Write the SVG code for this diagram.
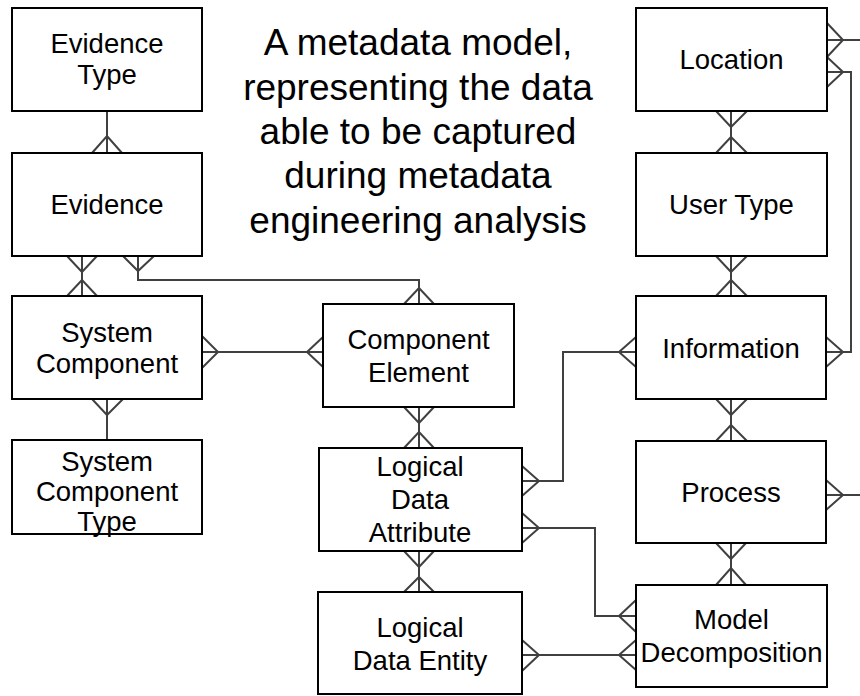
<svg xmlns="http://www.w3.org/2000/svg" width="860" height="696" viewBox="0 0 860 696">
<style>
.box{fill:#fff;stroke:#000;stroke-width:2}
.lbl{font-family:"Liberation Sans",Arial,sans-serif;font-size:27.5px;fill:#000;text-anchor:middle}
.title{font-family:"Liberation Sans",Arial,sans-serif;font-size:37px;fill:#000;text-anchor:middle}
.c{fill:none;stroke:#404040;stroke-width:2;stroke-linejoin:miter}
</style>
<rect width="860" height="696" fill="#fff"/>
<text class="title" x="418" y="55">A metadata model,</text>
<text class="title" x="418" y="100">representing the data</text>
<text class="title" x="418" y="144">able to be captured</text>
<text class="title" x="418" y="188">during metadata</text>
<text class="title" x="418" y="233">engineering analysis</text>
<g id="connectors">
<!-- ET - E -->
<path class="c" d="M107,111 V153 M92,153 L107,136 L122,153"/>
<!-- E - SC -->
<path class="c" d="M82,256 V296 M67,256 L82,272 L97,256 M67,296 L82,280 L97,296"/>
<!-- E - CE -->
<path class="c" d="M138,256 V280 H419 V304 M123,256 L138,271 L154,256 M404,304 L419,288 L434,304"/>
<!-- SC - CE -->
<path class="c" d="M202,352 H323 M202,336 L218,352 L202,368 M323,337 L307,352 L323,367"/>
<!-- SC - SCT -->
<path class="c" d="M107,399 V440 M92,399 L107,415 L123,399"/>
<!-- CE - LDA -->
<path class="c" d="M419,407 V448 M404,407 L419,423 L434,407 M404,448 L419,432 L434,448"/>
<!-- LDA - LDE -->
<path class="c" d="M419,551 V592 M404,551 L419,567 L434,551 M404,592 L419,577 L434,592"/>
<!-- LDA - Information -->
<path class="c" d="M522,481 H563 V352 H636 M522,466 L539,481 L522,496 M636,337 L619,352 L636,367"/>
<!-- LDA - MD -->
<path class="c" d="M522,528 H595 V616 H636 M522,513 L539,528 L522,543 M636,600 L619,616 L636,632"/>
<!-- LDE - MD -->
<path class="c" d="M522,655 H636 M522,640 L539,655 L522,671 M636,640 L619,655 L636,670"/>
<!-- Location - User Type -->
<path class="c" d="M731,111 V153 M716,111 L731,127 L747,111 M716,153 L731,137 L747,153"/>
<!-- User Type - Information -->
<path class="c" d="M731,256 V296 M716,256 L731,272 L747,256 M716,296 L731,280 L747,296"/>
<!-- Information - Process -->
<path class="c" d="M731,399 V441 M716,399 L731,415 L747,399 M716,441 L731,425 L747,441"/>
<!-- Process - MD -->
<path class="c" d="M731,543 V585 M716,543 L731,559 L746,543 M716,585 L731,568 L746,585"/>
<!-- Information - Location -->
<path class="c" d="M826,352 H851 V72 H827 M826,337 L843,352 L826,367 M827,57 L843,72 L827,87"/>
<!-- Location - off page -->
<path class="c" d="M827,40 H860 M827,23 L843,40 L827,57"/>
<!-- Process - off page -->
<path class="c" d="M826,495 H860 M826,480 L843,495 L826,510"/>
</g>
<g id="evidence-type"><rect class="box" x="12" y="8" width="190" height="103"/><text class="lbl" x="107" y="53">Evidence</text><text class="lbl" x="107" y="84">Type</text></g>
<g id="evidence"><rect class="box" x="12" y="153" width="190" height="103"/><text class="lbl" x="107" y="214">Evidence</text></g>
<g id="system-component"><rect class="box" x="12" y="296" width="190" height="103"/><text class="lbl" x="107" y="342">System</text><text class="lbl" x="107" y="373">Component</text></g>
<g id="system-component-type"><rect class="box" x="12" y="440" width="190" height="94"/><text class="lbl" x="107" y="471">System</text><text class="lbl" x="107" y="501">Component</text><text class="lbl" x="107" y="531">Type</text></g>
<g id="component-element"><rect class="box" x="323" y="304" width="191" height="103"/><text class="lbl" x="418.5" y="349">Component</text><text class="lbl" x="418.5" y="382">Element</text></g>
<g id="logical-data-attribute"><rect class="box" x="319" y="448" width="203" height="103"/><text class="lbl" x="420" y="476">Logical</text><text class="lbl" x="420" y="509">Data</text><text class="lbl" x="420" y="542">Attribute</text></g>
<g id="logical-data-entity"><rect class="box" x="318" y="592" width="204" height="102"/><text class="lbl" x="420" y="637">Logical</text><text class="lbl" x="420" y="670">Data Entity</text></g>
<g id="location"><rect class="box" x="636" y="8" width="191" height="103"/><text class="lbl" x="731.5" y="69">Location</text></g>
<g id="user-type"><rect class="box" x="636" y="153" width="191" height="103"/><text class="lbl" x="731.5" y="214">User Type</text></g>
<g id="information"><rect class="box" x="636" y="296" width="190" height="103"/><text class="lbl" x="731" y="358">Information</text></g>
<g id="process"><rect class="box" x="636" y="441" width="190" height="102"/><text class="lbl" x="731" y="502">Process</text></g>
<g id="model-decomposition"><rect class="box" x="636" y="585" width="191" height="102"/><text class="lbl" x="731.5" y="629">Model</text><text class="lbl" x="731.5" y="662">Decomposition</text></g>
</svg>
